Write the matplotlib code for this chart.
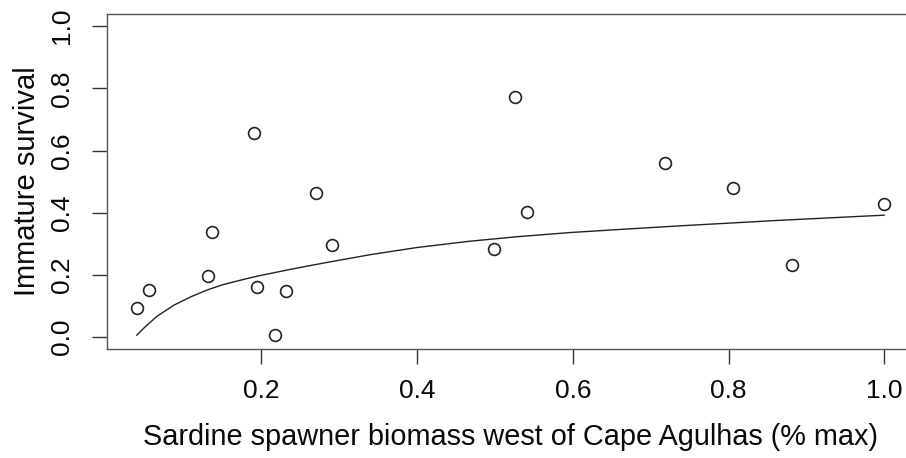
import matplotlib
matplotlib.use("Agg")
import matplotlib.pyplot as plt

# observed points
biomass = [0.040, 0.056, 0.131, 0.136, 0.191, 0.195, 0.218, 0.231, 0.270, 0.291,
           0.499, 0.526, 0.541, 0.719, 0.806, 0.881, 1.000]
survival = [0.092, 0.151, 0.196, 0.337, 0.656, 0.161, 0.008, 0.147, 0.462, 0.296,
            0.282, 0.773, 0.403, 0.560, 0.480, 0.232, 0.427]

# fitted curve
fit_x = [0.04, 0.05, 0.066, 0.088, 0.11, 0.13, 0.15, 0.175, 0.195, 0.24, 0.28,
         0.34, 0.40, 0.467, 0.53, 0.596, 0.66, 0.74, 0.87, 1.0]
fit_y = [0.006, 0.031, 0.067, 0.103, 0.130, 0.151, 0.168, 0.184, 0.196, 0.219, 0.238,
         0.265, 0.288, 0.308, 0.323, 0.336, 0.346, 0.358, 0.376, 0.392]

x_ticks = [0.2, 0.4, 0.6, 0.8, 1.0]
y_ticks = [0.0, 0.2, 0.4, 0.6, 0.8, 1.0]

plt.rcParams['font.family'] = ['Liberation Sans', 'DejaVu Sans']

fig = plt.figure(figsize=(9.06, 4.58), dpi=100)
ax = fig.add_axes([0.118, 0.237, 0.891, 0.733])

ax.plot(fit_x, fit_y, color='#222222', lw=1.0)
ax.plot(biomass, survival, linestyle='none', marker='o', markersize=8.5,
        markerfacecolor='white', markeredgecolor='#222222', markeredgewidth=1.2)

ax.set_xlim(0.0016, 1.0384)
ax.set_ylim(-0.04, 1.04)
ax.set_xticks(x_ticks)
ax.set_xticklabels(['%.1f' % t for t in x_ticks])
ax.set_yticks(y_ticks)
ax.set_yticklabels(['%.1f' % t for t in y_ticks], rotation=90, va='center')

for s in ax.spines.values():
    s.set_color('#555555')
    s.set_linewidth(1.0)
ax.tick_params(axis='both', length=10.5, width=1.0, color='#333333',
               labelsize=19, labelcolor='#0a0a0a')
ax.tick_params(axis='x', pad=11)
ax.tick_params(axis='y', pad=13.5)

ax.set_xlabel('Sardine spawner biomass west of Cape Agulhas (% max)',
              fontsize=20.8, color='#0a0a0a', labelpad=14)
ax.set_ylabel('Immature survival', fontsize=21, color='#0a0a0a', labelpad=6)

fig.savefig('out.png', dpi=100)
